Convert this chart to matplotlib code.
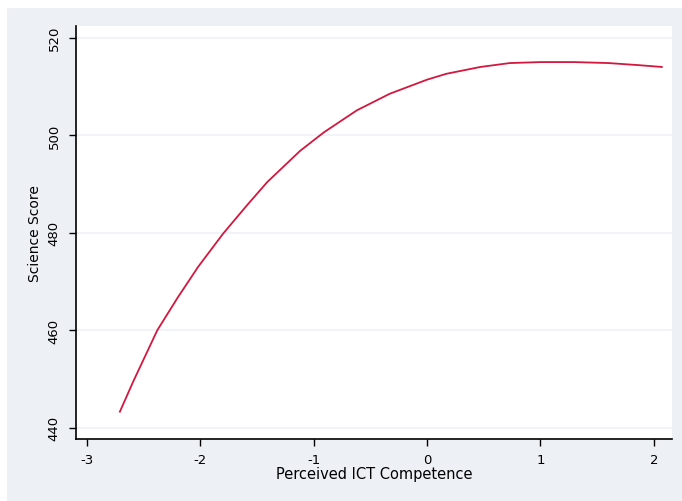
import matplotlib
matplotlib.use("Agg")
import matplotlib.pyplot as plt
from matplotlib.patches import Rectangle

# predicted science score over perceived ICT competence
competence = [-2.71, -2.59, -2.38, -2.2, -2.02, -1.8, -1.59, -1.41, -1.12, -0.91,
              -0.62, -0.33, 0.0, 0.17, 0.47, 0.73, 1.0, 1.3, 1.6, 1.85, 2.07]
score = [443.3, 449.6, 460.0, 466.7, 473.0, 479.8, 485.6, 490.4, 496.8, 500.6,
         505.1, 508.5, 511.4, 512.6, 514.0, 514.8, 515.0, 515.0, 514.8, 514.4, 514.0]

xticks = [-3, -2, -1, 0, 1, 2]
yticks = [440, 460, 480, 500, 520]

panel = "#edf1f6"
grid = "#eef2f7"
line_color = "#d3173f"

fig = plt.figure(figsize=(6.82, 5.02), dpi=100, facecolor="white")
fig.add_artist(Rectangle((7 / 682, 0), 1 - 7 / 682, 493 / 502,
                         transform=fig.transFigure, facecolor=panel,
                         edgecolor="none", zorder=-5))

ax = fig.add_axes([76 / 682, 62 / 502, 596 / 682, 413 / 502])
ax.set_zorder(1)
ax.set_facecolor("white")

ax.plot(competence, score, color=line_color, lw=1.3, zorder=3)

ax.set_xlim(-3.097, 2.16)
ax.set_ylim(437.7, 522.4)
ax.set_xticks(xticks)
ax.set_yticks(yticks)
ax.set_xticklabels([str(t) for t in xticks])
ax.set_yticklabels([str(t) for t in yticks], rotation=90, va="center")

ax.yaxis.grid(True, color=grid, lw=1.2)
ax.set_axisbelow(True)

for side in ["top", "right"]:
    ax.spines[side].set_visible(False)
for side in ["left", "bottom"]:
    ax.spines[side].set_color("black")
    ax.spines[side].set_linewidth(1.2)

ax.tick_params(axis="both", direction="out", length=5, width=1.0,
               color="black", labelsize=9.5)
ax.tick_params(axis="x", pad=5)
ax.tick_params(axis="y", pad=6)

ax.set_xlabel("Perceived ICT Competence", fontsize=10.5, labelpad=0)
ax.set_ylabel("Science Score", fontsize=10, labelpad=4)

fig.savefig("out.png", dpi=100, facecolor="white")
